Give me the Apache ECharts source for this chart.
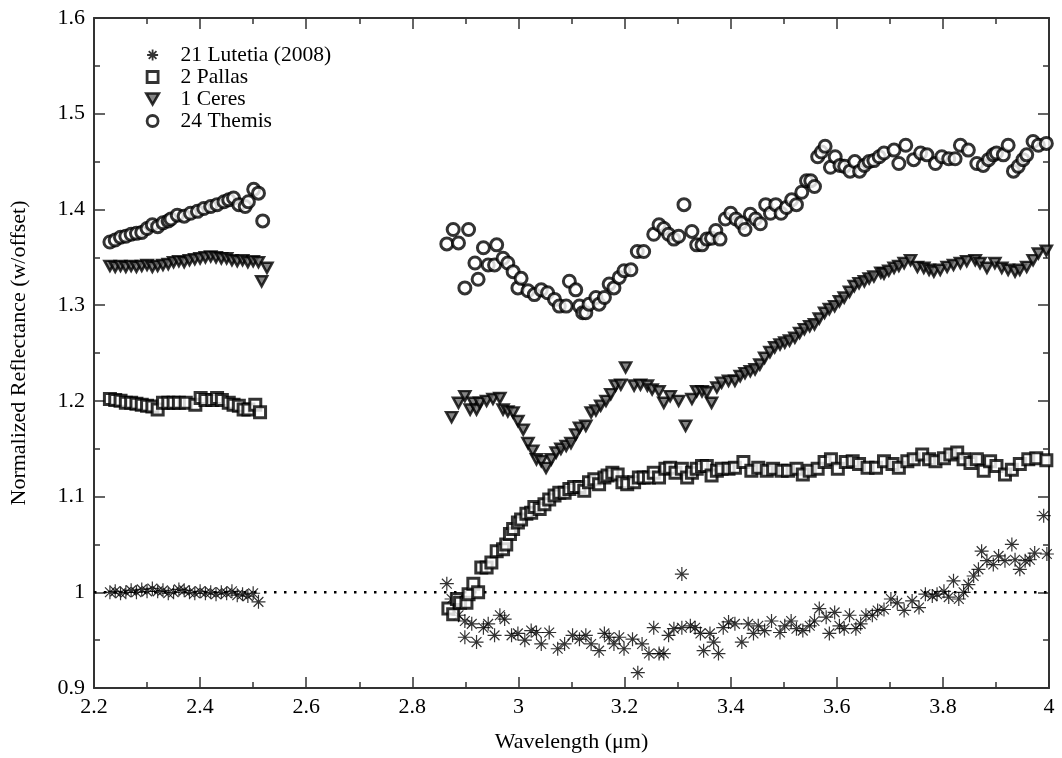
<!DOCTYPE html>
<html>
<head>
<meta charset="utf-8">
<title>Normalized Reflectance</title>
<script src="https://cdn.jsdelivr.net/npm/echarts@6/dist/echarts.min.js"></script>
<style>
  html, body { margin: 0; padding: 0; background: #fff; }
  #chart { width: 1062px; height: 758px; }
</style>
</head>
<body>
<div id="chart"></div>
<script>
// axis ticks
const xTicks = [2.2, 2.4, 2.6, 2.8, 3, 3.2, 3.4, 3.6, 3.8, 4];
const yTicks = [0.9, 1, 1.1, 1.2, 1.3, 1.4, 1.5, 1.6];
const seriesNames = ['21 Lutetia (2008)', '2 Pallas', '1 Ceres', '24 Themis'];

// [wavelength, reflectance]
const lutetia = [
  [2.23,1.000],[2.24,1.001],[2.25,0.999],[2.26,1.000],[2.27,1.002],[2.28,1.000],[2.29,1.003],[2.30,1.001],
  [2.31,1.004],[2.32,1.001],[2.33,1.002],[2.34,0.999],[2.35,1.000],[2.36,1.003],[2.37,1.002],[2.38,1.000],
  [2.39,0.999],[2.40,1.001],[2.41,0.999],[2.42,1.000],[2.43,0.998],[2.44,1.000],[2.45,0.999],[2.46,1.001],
  [2.47,0.997],[2.48,0.998],[2.49,0.996],[2.50,0.999],[2.51,0.990],
  [2.865,1.009],[2.874,0.993],[2.887,0.976],[2.899,0.970],[2.899,0.953],[2.912,0.967],[2.921,0.948],
  [2.934,0.963],[2.943,0.967],[2.955,0.955],[2.965,0.976],[2.974,0.972],[2.987,0.955],[2.999,0.957],
  [3.012,0.950],[3.024,0.960],[3.034,0.958],[3.043,0.946],[3.058,0.958],[3.074,0.941],[3.087,0.946],
  [3.102,0.955],[3.115,0.951],[3.127,0.955],[3.137,0.946],[3.152,0.939],[3.162,0.957],[3.171,0.953],
  [3.180,0.946],[3.190,0.953],[3.199,0.941],[3.215,0.951],[3.225,0.916],[3.233,0.946],[3.246,0.936],
  [3.255,0.963],[3.265,0.936],[3.274,0.936],[3.283,0.955],[3.293,0.962],[3.308,1.019],[3.308,0.963],
  [3.324,0.965],[3.333,0.963],[3.343,0.957],[3.349,0.939],[3.361,0.957],[3.368,0.948],[3.377,0.936],
  [3.386,0.963],[3.396,0.969],[3.408,0.967],[3.421,0.948],[3.433,0.967],[3.443,0.957],[3.452,0.965],
  [3.464,0.960],[3.477,0.970],[3.493,0.958],[3.502,0.965],[3.514,0.970],[3.524,0.962],[3.536,0.960],
  [3.549,0.965],[3.558,0.970],[3.567,0.983],[3.580,0.974],[3.586,0.957],[3.596,0.979],[3.605,0.965],
  [3.614,0.962],[3.624,0.976],[3.636,0.962],[3.645,0.967],[3.655,0.976],[3.667,0.976],[3.677,0.981],
  [3.689,0.982],[3.702,0.993],[3.714,0.989],[3.727,0.981],[3.742,0.991],[3.755,0.984],[3.767,0.998],
  [3.780,0.996],[3.789,0.998],[3.802,1.001],[3.811,0.995],[3.820,1.012],[3.830,0.993],[3.839,1.000],
  [3.848,1.008],[3.858,1.017],[3.867,1.024],[3.873,1.043],[3.883,1.033],[3.895,1.029],[3.905,1.038],
  [3.917,1.033],[3.930,1.050],[3.936,1.034],[3.945,1.024],[3.955,1.033],[3.964,1.034],[3.973,1.041],
  [3.990,1.080],[3.996,1.040]
];

const pallas = [
  [2.23,1.202],[2.24,1.201],[2.25,1.200],[2.26,1.198],[2.27,1.198],[2.28,1.197],[2.29,1.196],[2.30,1.195],
  [2.31,1.194],[2.32,1.191],[2.33,1.198],[2.34,1.198],[2.35,1.198],
  [2.360,1.198],[2.373,1.198],[2.391,1.196],[2.401,1.203],[2.410,1.201],[2.423,1.201],[2.432,1.203],
  [2.441,1.201],[2.454,1.198],[2.463,1.196],[2.473,1.195],[2.482,1.191],[2.491,1.191],[2.504,1.196],
  [2.513,1.188],
  [2.868,0.983],[2.877,0.977],[2.884,0.993],[2.890,0.989],[2.902,0.989],[2.906,0.998],[2.915,1.009],
  [2.924,1.000],[2.930,1.026],[2.940,1.026],[2.949,1.031],[2.959,1.043],[2.971,1.045],[2.977,1.050],
  [2.984,1.061],[2.990,1.066],[2.999,1.073],[3.005,1.076],[3.015,1.082],[3.024,1.083],[3.030,1.089],
  [3.040,1.087],[3.049,1.092],[3.058,1.097],[3.068,1.101],[3.077,1.104],[3.087,1.104],[3.096,1.108],
  [3.105,1.110],[3.115,1.110],[3.124,1.106],[3.133,1.115],[3.143,1.118],[3.152,1.113],[3.162,1.120],
  [3.168,1.122],[3.177,1.125],[3.187,1.123],[3.196,1.115],[3.205,1.113],[3.218,1.115],[3.227,1.120],
  [3.236,1.120],[3.246,1.120],[3.255,1.125],[3.265,1.120],[3.277,1.129],[3.286,1.130],[3.296,1.125],
  [3.308,1.129],[3.318,1.120],[3.327,1.125],[3.336,1.129],[3.346,1.132],[3.355,1.132],[3.364,1.122],
  [3.374,1.127],[3.383,1.129],[3.396,1.129],[3.408,1.130],[3.424,1.136],[3.439,1.127],[3.452,1.130],
  [3.468,1.127],[3.480,1.129],[3.496,1.127],[3.508,1.127],[3.524,1.129],[3.536,1.123],[3.549,1.127],
  [3.564,1.129],[3.577,1.136],[3.589,1.139],[3.602,1.129],[3.617,1.136],[3.630,1.137],[3.642,1.134],
  [3.658,1.130],[3.674,1.130],[3.689,1.137],[3.705,1.134],[3.717,1.130],[3.733,1.137],[3.745,1.139],
  [3.761,1.144],[3.774,1.139],[3.786,1.137],[3.802,1.140],[3.814,1.144],[3.827,1.146],[3.839,1.139],
  [3.852,1.135],[3.864,1.139],[3.877,1.127],[3.889,1.137],[3.901,1.132],[3.917,1.123],[3.930,1.128],
  [3.945,1.134],[3.961,1.139],[3.976,1.140],[3.995,1.138]
];

const ceres = [
  [2.23,1.341],[2.24,1.340],[2.25,1.341],[2.26,1.340],[2.27,1.341],[2.28,1.340],[2.29,1.341],[2.30,1.342],
  [2.31,1.340],[2.32,1.341],[2.33,1.342],[2.34,1.343],[2.35,1.345],[2.36,1.346],[2.37,1.345],[2.38,1.347],
  [2.39,1.348],[2.40,1.349],[2.41,1.350],[2.42,1.351],[2.43,1.350],[2.44,1.349],[2.45,1.349],[2.46,1.347],
  [2.47,1.346],[2.48,1.347],[2.49,1.345],[2.50,1.346],[2.51,1.345],[2.516,1.325],[2.526,1.339],
  [2.874,1.183],[2.887,1.198],[2.899,1.205],[2.909,1.191],[2.915,1.198],[2.921,1.191],[2.927,1.198],
  [2.940,1.200],[2.952,1.202],[2.965,1.203],[2.971,1.191],[2.980,1.189],[2.990,1.188],[2.999,1.179],
  [3.009,1.170],[3.018,1.156],[3.027,1.148],[3.034,1.139],[3.043,1.137],[3.052,1.130],[3.062,1.139],
  [3.071,1.146],[3.080,1.150],[3.090,1.153],[3.099,1.156],[3.108,1.165],[3.115,1.172],[3.127,1.174],
  [3.137,1.188],[3.146,1.190],[3.155,1.195],[3.165,1.200],[3.174,1.207],[3.183,1.216],[3.193,1.217],
  [3.202,1.235],[3.218,1.216],[3.230,1.217],[3.243,1.216],[3.252,1.212],[3.265,1.210],[3.274,1.198],
  [3.286,1.205],[3.302,1.200],[3.315,1.174],[3.327,1.202],[3.336,1.210],[3.346,1.210],[3.355,1.209],
  [3.364,1.198],[3.374,1.214],[3.383,1.219],[3.396,1.221],[3.408,1.221],[3.418,1.226],[3.427,1.229],
  [3.437,1.231],[3.446,1.233],[3.455,1.238],[3.464,1.245],[3.474,1.251],[3.483,1.256],[3.493,1.259],
  [3.502,1.261],[3.511,1.263],[3.521,1.266],[3.530,1.271],[3.539,1.275],[3.549,1.278],[3.558,1.280],
  [3.567,1.286],[3.577,1.292],[3.586,1.296],[3.596,1.299],[3.605,1.304],[3.614,1.308],[3.624,1.314],
  [3.633,1.320],[3.642,1.323],[3.652,1.325],[3.661,1.328],[3.670,1.330],[3.683,1.334],[3.689,1.333],
  [3.698,1.336],[3.708,1.339],[3.717,1.341],[3.727,1.344],[3.739,1.347],[3.752,1.340],[3.764,1.339],
  [3.774,1.337],[3.783,1.335],[3.795,1.337],[3.808,1.340],[3.820,1.342],[3.833,1.344],[3.845,1.346],
  [3.861,1.347],[3.870,1.344],[3.883,1.339],[3.898,1.344],[3.911,1.339],[3.923,1.337],[3.936,1.335],
  [3.945,1.337],[3.958,1.340],[3.970,1.347],[3.980,1.354],[3.995,1.357]
];

const themis = [
  [2.23,1.366],[2.24,1.368],[2.25,1.371],[2.26,1.372],[2.27,1.374],[2.28,1.375],[2.29,1.376],[2.30,1.380],
  [2.31,1.384],[2.32,1.382],[2.33,1.386],[2.34,1.388],[2.345,1.390],
  [2.357,1.394],[2.370,1.393],[2.382,1.396],[2.395,1.398],[2.407,1.401],[2.420,1.403],[2.432,1.405],
  [2.445,1.408],[2.454,1.410],[2.463,1.412],[2.473,1.405],[2.485,1.403],[2.491,1.408],[2.501,1.421],
  [2.510,1.417],[2.518,1.388],
  [2.865,1.364],[2.877,1.379],[2.887,1.365],[2.899,1.318],[2.906,1.379],[2.918,1.344],[2.924,1.327],
  [2.934,1.360],[2.943,1.342],[2.955,1.342],[2.959,1.363],[2.971,1.349],[2.980,1.344],[2.990,1.335],
  [2.999,1.318],[3.005,1.328],[3.018,1.315],[3.030,1.311],[3.043,1.316],[3.055,1.313],[3.068,1.306],
  [3.077,1.299],[3.090,1.299],[3.096,1.325],[3.108,1.316],[3.115,1.299],[3.121,1.292],[3.127,1.292],
  [3.133,1.301],[3.146,1.308],[3.152,1.301],[3.162,1.308],[3.171,1.322],[3.180,1.318],[3.190,1.329],
  [3.199,1.336],[3.212,1.337],[3.224,1.356],[3.236,1.356],[3.255,1.374],[3.265,1.384],[3.274,1.380],
  [3.283,1.374],[3.293,1.369],[3.302,1.372],[3.312,1.405],[3.327,1.377],[3.336,1.363],[3.346,1.363],
  [3.355,1.369],[3.364,1.370],[3.372,1.378],[3.380,1.369],[3.390,1.390],[3.400,1.396],[3.410,1.390],
  [3.420,1.386],[3.427,1.379],[3.437,1.395],[3.447,1.390],[3.456,1.385],[3.466,1.405],[3.475,1.396],
  [3.485,1.405],[3.495,1.396],[3.505,1.402],[3.515,1.410],[3.524,1.405],[3.534,1.418],[3.543,1.430],
  [3.551,1.430],[3.558,1.424],[3.564,1.455],[3.571,1.460],[3.578,1.466],[3.588,1.444],[3.597,1.455],
  [3.606,1.446],[3.615,1.445],[3.625,1.440],[3.634,1.450],[3.643,1.440],[3.652,1.446],[3.661,1.450],
  [3.670,1.451],[3.680,1.455],[3.689,1.459],[3.708,1.462],[3.717,1.448],[3.730,1.467],[3.745,1.452],
  [3.758,1.459],[3.770,1.457],[3.786,1.448],[3.798,1.455],[3.811,1.453],[3.823,1.453],[3.833,1.467],
  [3.848,1.462],[3.864,1.448],[3.876,1.446],[3.886,1.452],[3.895,1.457],[3.901,1.459],[3.914,1.457],
  [3.923,1.467],[3.933,1.440],[3.942,1.445],[3.951,1.452],[3.958,1.457],[3.970,1.471],[3.980,1.467],
  [3.995,1.469]
];

// dotted reference line at 1
const refLine = [[2.2, 1], [4, 1]];

const asteriskPath = 'path://M5,0L5,10M0,5L10,5M1.5,1.5L8.5,8.5M1.5,8.5L8.5,1.5';
const squarePath = 'path://M0,0L10,0L10,10L0,10Z';
const downTriPath = 'path://M0,0L10,0L5,8.66Z';
const font = 'Liberation Serif';

const chart = echarts.init(document.getElementById('chart'));

const axisLine = { show: true, lineStyle: { color: '#333', width: 2 } };
const hiddenLabel = { show: false };
const majorTick = { inside: true, length: 11, lineStyle: { color: '#333', width: 1.5 } };
const minorTick = { show: true, splitNumber: 2, length: 6, lineStyle: { color: '#333', width: 1.5 } };

const option = {
  backgroundColor: '#fff',
  animation: false,
  grid: { left: 88, right: 13, top: 18, bottom: 69 },
  legend: {
    data: [
      { name: seriesNames[0], itemStyle: { borderWidth: 1.8 } },
      { name: seriesNames[1], itemStyle: { borderWidth: 2.8 } },
      { name: seriesNames[2], itemStyle: { borderWidth: 2.5 } },
      { name: seriesNames[3], itemStyle: { borderWidth: 2.8 } }
    ],
    orient: 'vertical',
    left: 140,
    top: 39,
    itemWidth: 46,
    itemHeight: 11,
    itemGap: 0,
    textStyle: { fontFamily: font, fontSize: 21.5, color: '#000', lineHeight: 21.5 }
  },
  xAxis: [
    {
      type: 'value', min: 2.2, max: 4, interval: 0.2,
      name: 'Wavelength (μm)', nameLocation: 'middle', nameGap: 43,
      nameTextStyle: { fontFamily: font, fontSize: 22, color: '#000' },
      axisLine: axisLine,
      axisTick: majorTick,
      minorTick: minorTick,
      axisLabel: { fontFamily: font, fontSize: 22, color: '#000', margin: 8 },
      splitLine: { show: false }
    },
    {
      type: 'value', min: 2.2, max: 4, interval: 0.2, position: 'top',
      axisLine: axisLine,
      axisTick: majorTick,
      minorTick: minorTick,
      axisLabel: hiddenLabel,
      splitLine: { show: false }
    }
  ],
  yAxis: [
    {
      type: 'value', min: 0.9, max: 1.6, interval: 0.1,
      name: 'Normalized Reflectance (w/offset)', nameLocation: 'middle', nameGap: 64,
      nameTextStyle: { fontFamily: font, fontSize: 22, color: '#000' },
      axisLine: axisLine,
      axisTick: majorTick,
      minorTick: minorTick,
      axisLabel: { fontFamily: font, fontSize: 22, color: '#000', margin: 9 },
      splitLine: { show: false }
    },
    {
      type: 'value', min: 0.9, max: 1.6, interval: 0.1, position: 'right',
      axisLine: axisLine,
      axisTick: majorTick,
      minorTick: minorTick,
      axisLabel: hiddenLabel,
      splitLine: { show: false }
    }
  ],
  series: [
    {
      name: 'ref',
      type: 'line',
      data: refLine,
      symbol: 'none',
      silent: true,
      lineStyle: { color: '#000', width: 2.5, type: [2.5, 7.5] },
      z: 1
    },
    {
      name: seriesNames[0],
      type: 'scatter',
      data: lutetia,
      symbol: asteriskPath,
      symbolSize: 14,
      itemStyle: { color: '#000', borderColor: '#000', borderWidth: 1.2 },
      z: 2
    },
    {
      name: seriesNames[1],
      type: 'scatter',
      data: pallas,
      symbol: squarePath,
      symbolSize: 11,
      itemStyle: { color: '#fff', borderColor: '#000', borderWidth: 3 },
      z: 3
    },
    {
      name: seriesNames[2],
      type: 'scatter',
      data: ceres,
      symbol: downTriPath,
      symbolSize: [11, 10],
      itemStyle: { color: '#666', borderColor: '#000', borderWidth: 2.5 },
      z: 4
    },
    {
      name: seriesNames[3],
      type: 'scatter',
      data: themis,
      symbol: 'circle',
      symbolSize: 12,
      itemStyle: { color: '#fff', borderColor: '#000', borderWidth: 3 },
      z: 5
    }
  ]
};

chart.setOption(option);
</script>
</body>
</html>
